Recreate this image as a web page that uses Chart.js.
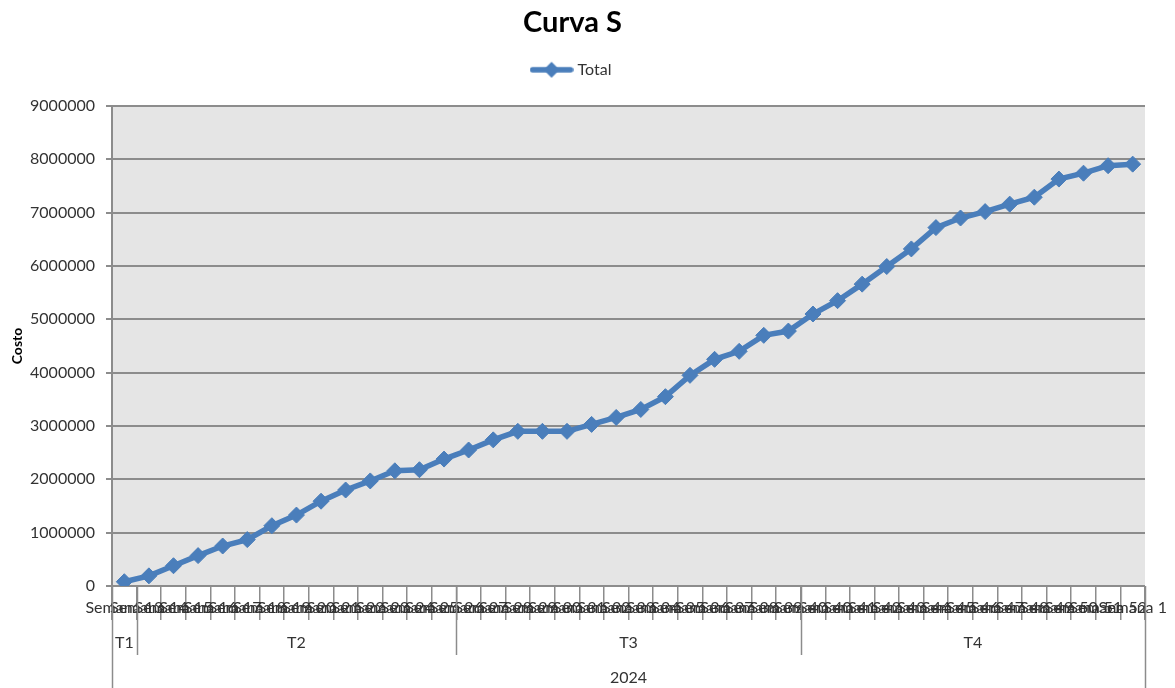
<!DOCTYPE html>
<html>
<head>
<meta charset="utf-8">
<title>Curva S</title>
<script src="https://cdn.jsdelivr.net/npm/chart.js@4.4.1/dist/chart.umd.min.js"></script>
<style>
  html, body { margin: 0; padding: 0; background: #ffffff; }
  #wrap { position: relative; width: 1175px; height: 688px; }
</style>
</head>
<body>
<div id="wrap"><canvas id="curva-s-chart"></canvas></div>
<script>
// Semanas (categorias del eje X), agrupadas por trimestre
const semanas = [
  'Semana 13',
  'Semana 14', 'Semana 15', 'Semana 16', 'Semana 17', 'Semana 18', 'Semana 19', 'Semana 20',
  'Semana 21', 'Semana 22', 'Semana 23', 'Semana 24', 'Semana 25', 'Semana 26',
  'Semana 27', 'Semana 28', 'Semana 29', 'Semana 30', 'Semana 31', 'Semana 32', 'Semana 33',
  'Semana 34', 'Semana 35', 'Semana 36', 'Semana 37', 'Semana 38', 'Semana 39', 'Semana 40',
  'Semana 40', 'Semana 41', 'Semana 42', 'Semana 43', 'Semana 44', 'Semana 45', 'Semana 46',
  'Semana 47', 'Semana 48', 'Semana 49', 'Semana 50', 'Semana 51', 'Semana 52', 'Semana 1'
];
const trimestres = ['T1', 'T2', 'T3', 'T4'];
const semanasPorTrimestre = [1, 13, 14, 14];
const anio = '2024';

// Costo acumulado (serie "Total")
const costoTotal = [
  80000, 190000, 380000, 570000, 750000, 870000, 1130000, 1330000, 1590000, 1800000,
  1970000, 2160000, 2180000, 2380000, 2550000, 2740000, 2900000, 2900000, 2900000, 3030000,
  3160000, 3310000, 3550000, 3950000, 4250000, 4400000, 4700000, 4780000, 5100000, 5350000,
  5660000, 5990000, 6320000, 6720000, 6900000, 7020000, 7160000, 7290000, 7630000, 7740000,
  7880000, 7910000
];

// Marcas del eje Y
const yTicks = [0, 1000000, 2000000, 3000000, 4000000, 5000000, 6000000, 7000000, 8000000, 9000000];

const azul = '#4a7ebb';
const gris = '#8c8c8c';
const texto = '#333333';
const fuente = 'Lato, "Open Sans", sans-serif';

// Icono de leyenda: linea con rombo
function legendIcon() {
  const c = document.createElement('canvas');
  c.width = 44;
  c.height = 18;
  const g = c.getContext('2d');
  g.strokeStyle = azul;
  g.lineWidth = 5.5;
  g.lineCap = 'round';
  g.beginPath();
  g.moveTo(3, 9);
  g.lineTo(41, 9);
  g.stroke();
  g.fillStyle = azul;
  g.beginPath();
  g.moveTo(22, 1);
  g.lineTo(30, 9);
  g.lineTo(22, 17);
  g.lineTo(14, 9);
  g.closePath();
  g.fill();
  return c;
}

// Fondo gris del area de trazado y eje de categorias de varios niveles
const ejeCategorias = {
  id: 'ejeCategorias',
  beforeDraw(chart) {
    const { ctx, chartArea } = chart;
    ctx.save();
    ctx.fillStyle = '#e5e5e5';
    ctx.fillRect(chartArea.left, chartArea.top, chartArea.right - chartArea.left, chartArea.bottom - chartArea.top);
    ctx.restore();
  },
  afterDraw(chart) {
    const { ctx, chartArea } = chart;
    const x = chart.scales.x;
    const half = (x.getPixelForValue(1) - x.getPixelForValue(0)) / 2;
    const edge = (i) => x.getPixelForValue(i) - half;
    const base = chartArea.bottom;

    const line = (px, y0, y1) => {
      ctx.beginPath();
      ctx.moveTo(Math.round(px) + 0.5, y0);
      ctx.lineTo(Math.round(px) + 0.5, y1);
      ctx.stroke();
    };

    ctx.save();
    ctx.strokeStyle = gris;
    ctx.lineWidth = 1.5;
    ctx.fillStyle = texto;
    ctx.font = '16px ' + fuente;
    ctx.textAlign = 'center';
    ctx.textBaseline = 'middle';

    line(edge(0), base, chart.height);
    line(edge(semanas.length), base, chart.height);

    let start = 0;
    trimestres.forEach((t, k) => {
      const end = start + semanasPorTrimestre[k];
      if (k > 0) line(edge(start), base, base + 69);
      ctx.fillText(t, (edge(start) + edge(end)) / 2, base + 57);
      start = end;
    });

    ctx.fillText(anio, (edge(0) + edge(semanas.length)) / 2, base + 92);
    ctx.restore();
  }
};

const ctx = document.getElementById('curva-s-chart').getContext('2d');

const config = {
  type: 'line',
  data: {
    labels: semanas,
    datasets: [{
      label: 'Total',
      data: costoTotal,
      borderColor: azul,
      backgroundColor: azul,
      borderWidth: 5.5,
      tension: 0,
      pointStyle: 'rectRot',
      pointRadius: 8,
      pointBorderWidth: 1,
      pointBackgroundColor: azul,
      pointBorderColor: azul
    }]
  },
  options: {
    responsive: true,
    maintainAspectRatio: false,
    animation: false,
    layout: {
      padding: { top: 0, right: 30, bottom: 0, left: 0 }
    },
    plugins: {
      title: {
        display: true,
        text: 'Curva S',
        color: '#000000',
        font: { family: fuente, size: 29, weight: 'bold' },
        padding: { top: 5, bottom: 0 }
      },
      // espaciador entre la leyenda y el area de trazado
      subtitle: {
        display: true,
        text: '',
        weight: 500,
        font: { size: 1 },
        padding: { top: 17, bottom: 0 }
      },
      legend: {
        display: true,
        position: 'top',
        labels: {
          usePointStyle: true,
          pointStyleWidth: 36,
          padding: 22,
          color: texto,
          font: { family: fuente, size: 16 },
          generateLabels: (chart) => Chart.defaults.plugins.legend.labels.generateLabels(chart)
            .map(l => Object.assign(l, { pointStyle: legendIcon(), lineWidth: 0 }))
        }
      },
      tooltip: { enabled: false }
    },
    scales: {
      x: {
        offset: true,
        grid: {
          offset: true,
          drawOnChartArea: false,
          drawTicks: true,
          tickLength: 34,
          color: gris,
          lineWidth: 1.5
        },
        border: { display: false },
        ticks: {
          autoSkip: false,
          maxRotation: 0,
          minRotation: 0,
          padding: -22,
          color: texto,
          font: { family: fuente, size: 16 }
        },
        afterFit: (scale) => { scale.height = 102; }
      },
      y: {
        min: 0,
        max: 9000000,
        afterBuildTicks: (scale) => { scale.ticks = yTicks.map(v => ({ value: v })); },
        grid: {
          color: gris,
          lineWidth: 2,
          tickLength: 6
        },
        border: { color: gris, width: 2 },
        ticks: {
          padding: 11,
          color: texto,
          font: { family: fuente, size: 16 },
          callback: (value) => String(value)
        },
        title: {
          display: true,
          text: 'Costo',
          color: '#000000',
          font: { family: fuente, size: 14, weight: 'bold' },
          padding: { top: 9, bottom: 0 }
        },
        afterFit: (scale) => { scale.width = 112; }
      }
    }
  },
  plugins: [ejeCategorias]
};

const curvaChart = new Chart(ctx, config);
</script>
</body>
</html>
